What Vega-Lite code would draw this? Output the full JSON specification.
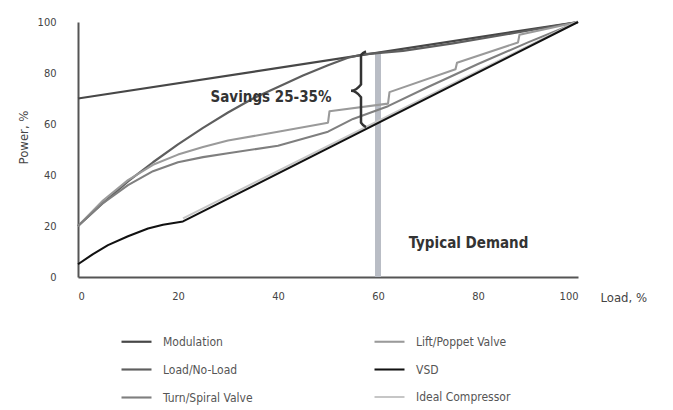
{
  "$schema": "https://vega.github.io/schema/vega-lite/v6.json",
  "width": 500,
  "height": 255,
  "autosize": {"type": "none"},
  "padding": {"left": 78, "top": 22, "right": 95, "bottom": 133},
  "background": "white",
  "config": {
    "view": {"stroke": null},
    "font": "DejaVu Sans Condensed, Liberation Sans, sans-serif",
    "axis": {
      "domainColor": "#555",
      "domainWidth": 2,
      "ticks": false,
      "grid": false,
      "labelFont": "DejaVu Sans Condensed, Liberation Sans, sans-serif",
      "labelFontSize": 11,
      "labelColor": "#444",
      "titleFont": "DejaVu Sans Condensed, Liberation Sans, sans-serif",
      "titleFontSize": 13,
      "titleFontWeight": "normal",
      "titleColor": "#444"
    }
  },
  "datasets": {
    "curves": [
      {"series": "Modulation", "i": 0, "load": 0, "power": 70},
      {"series": "Modulation", "i": 1, "load": 100, "power": 100},

      {"series": "Load/No-Load", "i": 0, "load": 0, "power": 20},
      {"series": "Load/No-Load", "i": 1, "load": 5, "power": 29},
      {"series": "Load/No-Load", "i": 2, "load": 10, "power": 37.5},
      {"series": "Load/No-Load", "i": 3, "load": 15, "power": 45},
      {"series": "Load/No-Load", "i": 4, "load": 20, "power": 52},
      {"series": "Load/No-Load", "i": 5, "load": 25, "power": 58.5},
      {"series": "Load/No-Load", "i": 6, "load": 30, "power": 64.5},
      {"series": "Load/No-Load", "i": 7, "load": 35, "power": 70},
      {"series": "Load/No-Load", "i": 8, "load": 40, "power": 74.5},
      {"series": "Load/No-Load", "i": 9, "load": 45, "power": 79},
      {"series": "Load/No-Load", "i": 10, "load": 50, "power": 83},
      {"series": "Load/No-Load", "i": 11, "load": 54, "power": 86},
      {"series": "Load/No-Load", "i": 12, "load": 57, "power": 87.3},
      {"series": "Load/No-Load", "i": 13, "load": 65, "power": 88.7},
      {"series": "Load/No-Load", "i": 14, "load": 75, "power": 91.6},
      {"series": "Load/No-Load", "i": 15, "load": 87, "power": 95.6},
      {"series": "Load/No-Load", "i": 16, "load": 100, "power": 100},

      {"series": "Lift/Poppet Valve", "i": 0, "load": 0, "power": 20},
      {"series": "Lift/Poppet Valve", "i": 1, "load": 5, "power": 30},
      {"series": "Lift/Poppet Valve", "i": 2, "load": 10, "power": 38},
      {"series": "Lift/Poppet Valve", "i": 3, "load": 15, "power": 44},
      {"series": "Lift/Poppet Valve", "i": 4, "load": 20, "power": 48},
      {"series": "Lift/Poppet Valve", "i": 5, "load": 25, "power": 51},
      {"series": "Lift/Poppet Valve", "i": 6, "load": 30, "power": 53.5},
      {"series": "Lift/Poppet Valve", "i": 7, "load": 40, "power": 57},
      {"series": "Lift/Poppet Valve", "i": 8, "load": 50, "power": 60.5},
      {"series": "Lift/Poppet Valve", "i": 9, "load": 50.3, "power": 65},
      {"series": "Lift/Poppet Valve", "i": 10, "load": 62, "power": 68},
      {"series": "Lift/Poppet Valve", "i": 11, "load": 62.3, "power": 72.5},
      {"series": "Lift/Poppet Valve", "i": 12, "load": 75.5, "power": 81.5},
      {"series": "Lift/Poppet Valve", "i": 13, "load": 75.8, "power": 84},
      {"series": "Lift/Poppet Valve", "i": 14, "load": 88, "power": 92},
      {"series": "Lift/Poppet Valve", "i": 15, "load": 88.3, "power": 95},
      {"series": "Lift/Poppet Valve", "i": 16, "load": 100, "power": 100},

      {"series": "Turn/Spiral Valve", "i": 0, "load": 0, "power": 20},
      {"series": "Turn/Spiral Valve", "i": 1, "load": 5, "power": 29},
      {"series": "Turn/Spiral Valve", "i": 2, "load": 10, "power": 36},
      {"series": "Turn/Spiral Valve", "i": 3, "load": 15, "power": 41.5},
      {"series": "Turn/Spiral Valve", "i": 4, "load": 20, "power": 45},
      {"series": "Turn/Spiral Valve", "i": 5, "load": 25, "power": 47},
      {"series": "Turn/Spiral Valve", "i": 6, "load": 30, "power": 48.5},
      {"series": "Turn/Spiral Valve", "i": 7, "load": 40, "power": 51.5},
      {"series": "Turn/Spiral Valve", "i": 8, "load": 50, "power": 57},
      {"series": "Turn/Spiral Valve", "i": 9, "load": 55, "power": 62},
      {"series": "Turn/Spiral Valve", "i": 10, "load": 62, "power": 67},
      {"series": "Turn/Spiral Valve", "i": 11, "load": 70, "power": 74.5},
      {"series": "Turn/Spiral Valve", "i": 12, "load": 80, "power": 83.5},
      {"series": "Turn/Spiral Valve", "i": 13, "load": 90, "power": 92},
      {"series": "Turn/Spiral Valve", "i": 14, "load": 100, "power": 100},

      {"series": "Ideal Compressor", "i": 0, "load": 21, "power": 23},
      {"series": "Ideal Compressor", "i": 1, "load": 100, "power": 100.3},

      {"series": "VSD", "i": 0, "load": 0, "power": 5},
      {"series": "VSD", "i": 1, "load": 3, "power": 9},
      {"series": "VSD", "i": 2, "load": 6, "power": 12.5},
      {"series": "VSD", "i": 3, "load": 10, "power": 16},
      {"series": "VSD", "i": 4, "load": 14, "power": 19},
      {"series": "VSD", "i": 5, "load": 17, "power": 20.5},
      {"series": "VSD", "i": 6, "load": 21, "power": 21.8},
      {"series": "VSD", "i": 7, "load": 100, "power": 100}
    ],
    "brace": [
      {"i": 0, "load": 57.6, "power": 88.5},
      {"i": 1, "load": 56.6, "power": 87},
      {"i": 2, "load": 56.6, "power": 75.5},
      {"i": 3, "load": 54.6, "power": 73},
      {"i": 4, "load": 56.6, "power": 70.5},
      {"i": 5, "load": 56.6, "power": 60.5},
      {"i": 6, "load": 57.6, "power": 58.8}
    ],
    "demand": [
      {"load": 60, "power": 0, "power2": 88}
    ],
    "notes": [
      {"label": "Savings 25-35%", "load": 38.6, "power": 70.6},
      {"label": "Typical Demand", "load": 78.1, "power": 13.3}
    ]
  },
  "layer": [
    {
      "data": {"name": "demand"},
      "mark": {"type": "rule", "strokeWidth": 6, "color": "#b9bdc5"},
      "encoding": {
        "x": {"field": "load", "type": "quantitative"},
        "y": {"field": "power", "type": "quantitative"},
        "y2": {"field": "power2"}
      }
    },
    {
      "data": {"name": "curves"},
      "mark": {"type": "line", "strokeCap": "butt", "strokeJoin": "round"},
      "encoding": {
        "x": {
          "field": "load", "type": "quantitative",
          "scale": {"domain": [0, 100], "nice": false, "zero": true},
          "axis": {
            "values": [0, 20, 40, 60, 80, 100],
            "labelPadding": 13,
            "title": "Load, %",
            "titleX": 522,
            "titleY": 20,
            "titleAlign": "left",
            "titleBaseline": "middle",
            "titleAnchor": "start"
          }
        },
        "y": {
          "field": "power", "type": "quantitative",
          "scale": {"domain": [0, 100], "nice": false},
          "axis": {
            "values": [0, 20, 40, 60, 80, 100],
            "labelPadding": 22,
            "title": "Power, %",
            "titleX": -55,
            "titleY": 115,
            "titleBaseline": "middle",
            "titleAlign": "center"
          }
        },
        "color": {
          "field": "series", "type": "nominal",
          "scale": {
            "domain": ["Modulation", "Load/No-Load", "Turn/Spiral Valve", "Lift/Poppet Valve", "VSD", "Ideal Compressor"],
            "range": ["#474747", "#5e5e5e", "#7f7f7f", "#9a9a9a", "#111111", "#c6c6c6"]
          },
          "legend": {
            "orient": "none",
            "legendX": 42,
            "legendY": 303,
            "columns": 2,
            "title": null,
            "symbolType": "stroke",
            "symbolSize": 900,
            "symbolStrokeWidth": 2,
            "labelFont": "DejaVu Sans Condensed, Liberation Sans, sans-serif",
            "labelFontSize": 12,
            "labelColor": "#555",
            "labelOffset": 10,
            "rowPadding": 5,
            "columnPadding": 117
          }
        },
        "strokeWidth": {
          "field": "series", "type": "nominal",
          "scale": {
            "domain": ["Modulation", "Load/No-Load", "Turn/Spiral Valve", "Lift/Poppet Valve", "VSD", "Ideal Compressor"],
            "range": [2.2, 2, 1.5, 1.5, 2.6, 1.5]
          },
          "legend": null
        },
        "order": {"field": "i", "type": "quantitative"}
      }
    },
    {
      "data": {"name": "brace"},
      "mark": {"type": "line", "color": "#333", "strokeWidth": 2.5, "interpolate": "monotone"},
      "encoding": {
        "x": {"field": "load", "type": "quantitative"},
        "y": {"field": "power", "type": "quantitative"},
        "order": {"field": "i", "type": "quantitative"}
      }
    },
    {
      "data": {"name": "notes"},
      "mark": {"type": "text", "font": "DejaVu Sans Condensed, Liberation Sans, sans-serif", "fontWeight": "bold", "fontSize": 15, "color": "#333", "baseline": "middle", "align": "center"},
      "encoding": {
        "x": {"field": "load", "type": "quantitative"},
        "y": {"field": "power", "type": "quantitative"},
        "text": {"field": "label"}
      }
    }
  ]
}
